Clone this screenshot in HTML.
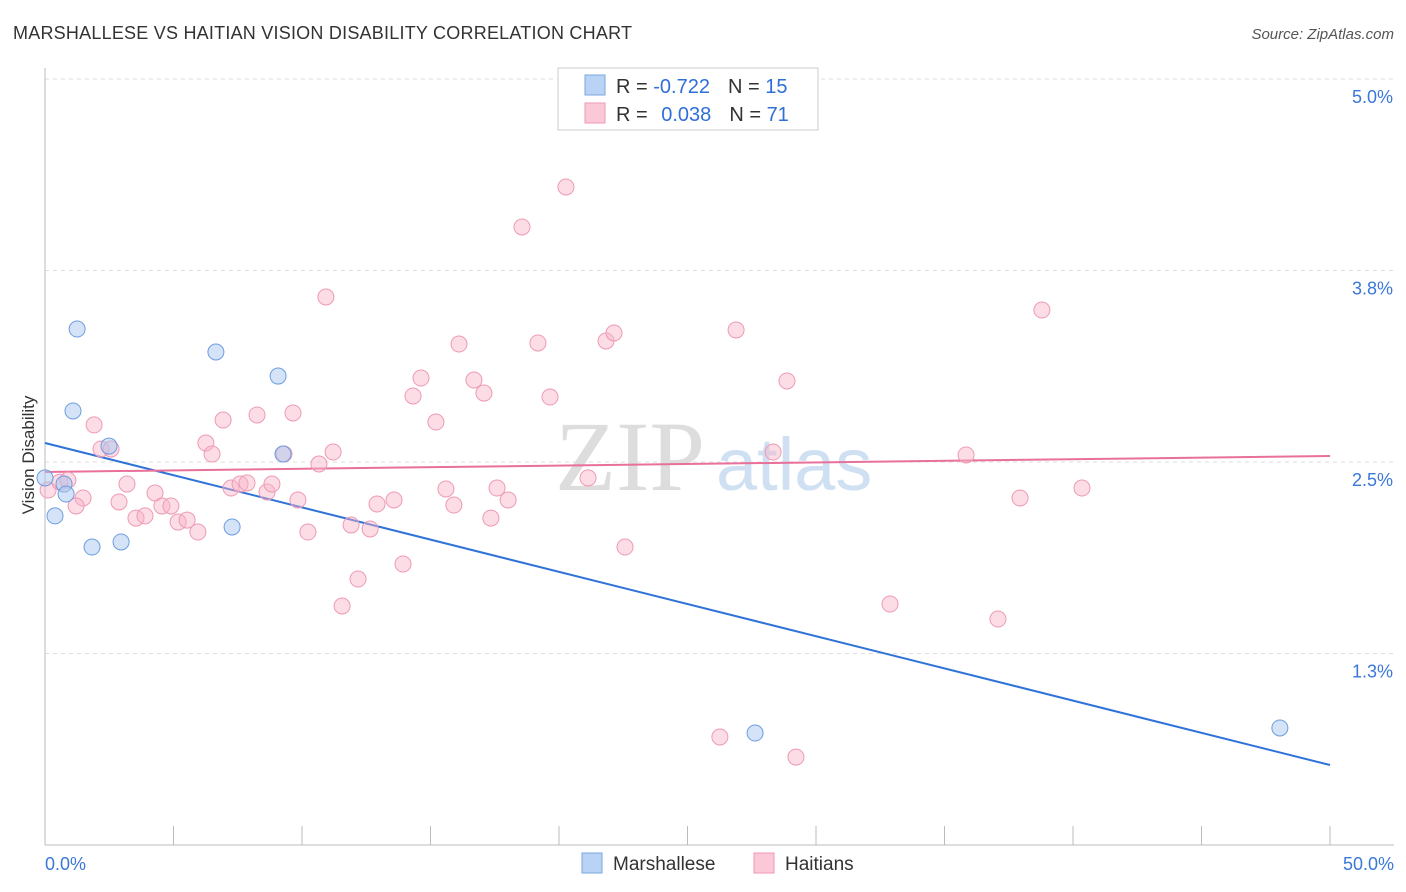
<!DOCTYPE html>
<html><head><meta charset="utf-8"><style>
body{margin:0;background:#fff;font-family:"Liberation Sans",sans-serif;}
svg{display:block}
</style></head><body>
<svg id="chart" width="1406" height="892">
<text x="13" y="39" font-size="18" fill="#333" textLength="619">MARSHALLESE VS HAITIAN VISION DISABILITY CORRELATION CHART</text>
<text x="1394" y="39" font-size="15" fill="#555" font-style="italic" text-anchor="end">Source: ZipAtlas.com</text>
<text x="555" y="490" font-size="100" fill="#ddd" font-family="Liberation Serif">ZIP</text>
<text x="716" y="490" font-size="74" fill="#cfe0f3">atlas</text>
<text x="34" y="455" font-size="17" fill="#333" text-anchor="middle" transform="rotate(-90 34 455)">Vision Disability</text>
<g id="grid"></g><g id="axes"></g><g id="lines"></g><g id="pts"></g>
<g>
<rect x="558" y="68" width="260" height="62" fill="#fff" stroke="#ccc"/>
<rect x="585" y="75" width="20" height="20" fill="#b9d3f5" stroke="#7aa7e0"/>
<rect x="585" y="103" width="20" height="20" fill="#fbc8d7" stroke="#ef9ab5"/>
<text x="616" y="93" font-size="20" fill="#333">R = <tspan fill="#2f6fd8">-0.722</tspan><tspan dx="18">N = </tspan><tspan fill="#2f6fd8">15</tspan></text>
<text x="616" y="121" font-size="20" fill="#333">R = <tspan fill="#2f6fd8" dx="8">0.038</tspan><tspan dx="18">N = </tspan><tspan fill="#2f6fd8">71</tspan></text>
</g>
<g>
<rect x="582" y="853" width="20" height="20" fill="#b9d3f5" stroke="#7aa7e0"/>
<text x="613" y="870" font-size="19" fill="#333">Marshallese</text>
<rect x="754" y="853" width="20" height="20" fill="#fbc8d7" stroke="#ef9ab5"/>
<text x="785" y="870" font-size="19" fill="#333">Haitians</text>
</g>
</svg>
<script>
const NS="http://www.w3.org/2000/svg";
const yTicks=[5.0,3.75,2.5,1.25];
const yTickLabels=["5.0%","3.8%","2.5%","1.3%"];
const xTickVals=[0,5,10,15,20,25,30,35,40,45,50];
const marshalleseX=[0,0.39,0.74,0.82,1.25,1.09,1.83,2.49,2.96,6.65,7.28,9.07,9.26,27.63,48.05];
const marshalleseY=[2.396,2.148,2.356,2.291,3.368,2.833,1.945,2.604,1.978,3.218,2.076,3.061,2.552,0.731,0.764];
const haitiansX=[0.12,0.58,0.89,1.48,1.21,1.91,2.18,2.57,2.88,3.19,3.54,3.89,4.28,4.55,4.9,5.18,5.53,5.95,6.26,6.5,6.93,7.24,7.59,7.86,8.25,8.64,8.83,9.3,9.65,9.84,10.23,10.66,10.93,11.21,11.56,11.91,12.18,12.65,12.92,13.58,13.93,14.32,14.63,15.21,15.6,15.91,16.11,16.69,17.08,17.35,17.59,18.02,18.56,19.18,19.65,20.27,21.13,21.83,22.14,22.57,26.26,26.89,28.33,28.87,29.22,32.88,35.84,37.08,37.94,38.79,40.35];
const haitiansY=[2.317,2.369,2.382,2.265,2.213,2.742,2.585,2.585,2.239,2.356,2.134,2.148,2.298,2.213,2.213,2.108,2.121,2.043,2.624,2.552,2.774,2.330,2.356,2.363,2.807,2.304,2.356,2.552,2.820,2.252,2.043,2.487,3.577,2.565,1.560,2.089,1.736,2.063,2.226,2.252,1.834,2.931,3.048,2.761,2.324,2.219,3.270,3.035,2.950,2.134,2.330,2.252,4.034,3.277,2.924,4.295,2.396,3.290,3.342,1.945,0.705,3.362,2.565,3.029,0.574,1.573,2.546,1.475,2.265,3.492,2.330];
const blueLine=[2.624,-0.04204];
const pinkLine=[2.435,0.00208];
const X=v=>45+v/50*1285, Y=v=>845-v*153.2;
function mk(t,a,p){const e=document.createElementNS(NS,t);for(const k in a)e.setAttribute(k,a[k]);p.appendChild(e);return e;}
const grid=document.getElementById('grid'),axes=document.getElementById('axes'),lines=document.getElementById('lines'),pts=document.getElementById('pts');
yTicks.forEach((v,i)=>{
 const l=mk('line',{x1:45,x2:1394,y1:Y(v),y2:Y(v),stroke:'#ddd','stroke-dasharray':'4,4'},grid);
 
 
 const t=mk('text',{x:1393,y:Y(v)+24,'font-size':18,fill:'#3a78d8','text-anchor':'end'},grid);
 t.textContent=yTickLabels[i];
 
 
});
const ax=mk('line',{x1:45,x2:1394,y1:845,y2:845,stroke:'#bbb'},axes);


const ay=mk('line',{x1:45,x2:45,y1:68,y2:845,stroke:'#bbb'},axes);


xTickVals.forEach(v=>{
 const t=mk('line',{x1:X(v),x2:X(v),y1:826,y2:845,stroke:'#bbb'},axes);
 
 
});
[[0,"0.0%","start",45],[50,"50.0%","end",1394]].forEach(a=>{
 const t=mk('text',{x:a[3],y:870,'font-size':18,fill:'#3a78d8','text-anchor':a[2]},axes);
 t.textContent=a[1];
 
 
});
function pt(xs,ys,fill,stroke,name){xs.forEach((x,i)=>{
 const c=mk('circle',{cx:X(x),cy:Y(ys[i]),r:8,fill:fill,stroke:stroke,'stroke-width':1},pts);
 
 
});}
pt(haitiansX,haitiansY,'rgba(248,180,200,0.45)','#ee9ab4','haitians-point');
pt(marshalleseX,marshalleseY,'rgba(170,200,240,0.5)','#6d9de0','marshallese-point');
const bl=mk('line',{x1:X(0),y1:Y(blueLine[0]),x2:X(50),y2:Y(blueLine[0]+blueLine[1]*50),stroke:'#2f72d9','stroke-width':2},lines);


const pl=mk('line',{x1:X(0),y1:Y(pinkLine[0]),x2:X(50),y2:Y(pinkLine[0]+pinkLine[1]*50),stroke:'#e8709a','stroke-width':2},lines);


</script>
</body></html>
